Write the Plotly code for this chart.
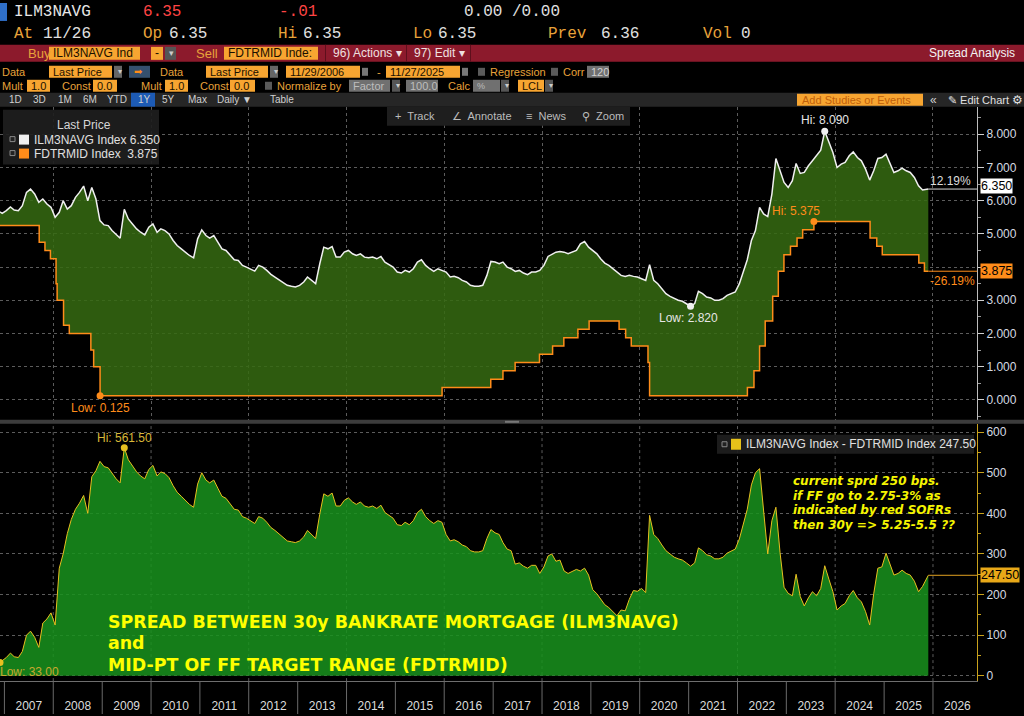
import pandas as pd
import plotly.graph_objects as go

W, H = 1024, 716
SANS = "Liberation Sans, Arial, sans-serif"
MONO = "Liberation Mono, monospace"
HEAVY = "DejaVu Sans, Verdana, sans-serif"

# ILM3NAVG (30y Bankrate mortgage), first print, one value per month, last print
ilm_values = [
    5.66,
    5.62,
    5.70, 5.81, 5.72, 5.70, 5.85, 6.25, 6.35, 6.20, 5.95, 6.05, 5.90, 5.80,  # 2007
    5.50, 5.65, 6.00, 5.75, 5.85, 6.10, 6.25, 6.44, 6.00, 6.40, 6.05, 5.40,  # 2008
    5.27, 5.25, 5.10, 4.97, 4.87, 5.74, 5.45, 5.30, 5.15, 5.05, 4.97, 5.20,  # 2009
    5.30, 5.05, 5.15, 5.10, 5.00, 4.80, 4.65, 4.55, 4.45, 4.35, 4.28, 4.85,  # 2010
    5.12, 4.95, 4.87, 4.95, 4.75, 4.55, 4.50, 4.35, 4.22, 4.20, 4.05, 4.00,  # 2011
    3.95, 3.88, 4.05, 4.00, 3.90, 3.78, 3.70, 3.62, 3.55, 3.45, 3.42, 3.40,  # 2012
    3.45, 3.55, 3.70, 3.60, 3.50, 4.10, 4.60, 4.55, 4.62, 4.30, 4.30, 4.45,  # 2013
    4.50, 4.40, 4.35, 4.40, 4.30, 4.28, 4.30, 4.25, 4.32, 4.15, 4.07, 4.00,  # 2014
    3.85, 3.82, 3.90, 3.85, 3.95, 4.15, 4.22, 4.05, 3.95, 3.87, 3.95, 3.90,  # 2015
    3.85, 3.70, 3.72, 3.68, 3.60, 3.55, 3.45, 3.42, 3.42, 3.45, 3.75, 4.17,  # 2016
    4.15, 4.10, 4.15, 4.00, 3.95, 3.87, 3.90, 3.82, 3.77, 3.85, 3.85, 3.90,  # 2017
    4.05, 4.32, 4.38, 4.45, 4.47, 4.45, 4.40, 4.45, 4.50, 4.70, 4.77, 4.60,  # 2018
    4.50, 4.40, 4.25, 4.12, 4.05, 3.95, 3.85, 3.75, 3.72, 3.75, 3.72, 3.70,  # 2019
    3.65, 3.60, 4.07, 3.60, 3.50, 3.35, 3.20, 3.12, 3.05, 3.00, 2.97, 2.90,  # 2020
    2.82, 2.90, 3.27, 3.20, 3.10, 3.07, 3.00, 3.00, 3.05, 3.15, 3.20, 3.25,  # 2021
    3.50, 3.90, 4.22, 4.80, 5.10, 5.80, 5.60, 5.52, 6.20, 7.27, 6.90, 6.55,  # 2022
    6.40, 6.60, 7.12, 6.82, 6.85, 7.05, 7.20, 7.35, 7.52, 8.09, 7.75, 7.45,  # 2023
    7.00, 7.10, 7.15, 7.35, 7.47, 7.30, 7.20, 6.95, 6.62, 6.90, 7.27, 7.30,  # 2024
    7.40, 7.10, 6.85, 6.90, 6.98, 6.90, 6.85, 6.70, 6.45, 6.32,  # 2025
    6.35,
]

# ILM3NAVG - FDTRMID spread in bps, same dates
spread_values = [
    33,
    37,
    45, 56, 47, 45, 60, 100, 110, 95, 70, 130, 140, 155,  # 2007
    125, 265, 300, 350, 385, 410, 425, 444, 400, 490, 505, 528,  # 2008
    515, 512, 498, 485, 475, 561.5, 532, 518, 502, 492, 485, 508,  # 2009
    518, 492, 502, 498, 488, 468, 452, 442, 432, 422, 415, 472,  # 2010
    500, 482, 475, 482, 462, 442, 437, 422, 410, 408, 392, 388,  # 2011
    382, 375, 392, 388, 378, 365, 358, 350, 342, 332, 330, 328,  # 2012
    332, 342, 358, 348, 338, 398, 448, 442, 450, 418, 418, 432,  # 2013
    438, 428, 422, 428, 418, 415, 418, 412, 420, 402, 395, 388,  # 2014
    372, 370, 378, 372, 382, 402, 410, 392, 382, 375, 382, 378,  # 2015
    348, 332, 335, 330, 322, 318, 308, 305, 305, 308, 338, 360,  # 2016
    352, 348, 328, 312, 308, 275, 278, 270, 265, 272, 272, 252,  # 2017
    268, 295, 300, 282, 285, 258, 252, 258, 262, 258, 265, 248,  # 2018
    212, 202, 188, 175, 168, 158, 148, 162, 160, 188, 210, 208,  # 2019
    215, 205, 395, 348, 338, 322, 308, 300, 292, 288, 285, 278,  # 2020
    270, 278, 315, 308, 298, 295, 288, 288, 292, 302, 308, 312,  # 2021
    337, 377, 410, 470, 500, 510, 400, 300, 382, 415, 303, 218,  # 2022
    203, 197, 250, 195, 172, 192, 207, 197, 215, 271, 238, 207,  # 2023
    162, 172, 178, 197, 210, 192, 182, 158, 125, 202, 265, 268,  # 2024
    302, 272, 248, 252, 260, 252, 248, 233, 207, 220,  # 2025
    247.5,
]

first_date = "2006-11-29"
last_date = "2025-11-27"
months = pd.date_range("2006-12-01", "2025-10-01", freq="MS") + pd.Timedelta(days=14)
dates = [first_date] + [d.strftime("%Y-%m-%d") for d in months] + [last_date]

# FDTRMID (mid-point of the fed funds target range), one entry per change
ff_dates = [
    "2006-11-29", "2007-09-18", "2007-10-31", "2007-12-11", "2008-01-22", "2008-01-30",
    "2008-03-18", "2008-04-30", "2008-10-08", "2008-10-29", "2008-12-16", "2015-12-16",
    "2016-12-14", "2017-03-15", "2017-06-14", "2017-12-13", "2018-03-21", "2018-06-13",
    "2018-09-26", "2018-12-19", "2019-07-31", "2019-09-18", "2019-10-30", "2020-03-03",
    "2020-03-15", "2022-03-16", "2022-05-04", "2022-06-15", "2022-07-27", "2022-09-21",
    "2022-11-02", "2022-12-14", "2023-02-01", "2023-03-22", "2023-05-03", "2023-07-26",
    "2024-09-18", "2024-11-07", "2024-12-18", "2025-09-17", "2025-10-29", "2025-11-27",
]
ff_values = [
    5.25, 4.75, 4.50, 4.25, 3.50, 3.00,
    2.25, 2.00, 1.50, 1.00, 0.125, 0.375,
    0.625, 0.875, 1.125, 1.375, 1.625, 1.875,
    2.125, 2.375, 2.125, 1.875, 1.625, 1.125,
    0.125, 0.375, 0.875, 1.625, 2.375, 3.125,
    3.875, 4.375, 4.625, 4.875, 5.125, 5.375,
    4.875, 4.625, 4.375, 4.125, 3.875, 3.875,
]

years = list(range(2007, 2027))
rate_ticks = list(range(0, 9))
x_start, x_end = "2006-11-29", "2026-11-26"

ORANGE = "#ff8c1a"
GOLD = "#e8c020"
GOLD_AXIS = "#c9a21c"
WHITE = "#f0f0f0"
TOP_GREEN = "rgba(53,106,18,0.86)"
BOT_GREEN = "rgba(24,146,29,0.86)"
GRID = "#5c5c5c"
LBL = "#e8a33a"
PLOT_R = 977 / W

shapes = []
annots = []


def px(x):
    return x / W


def py(y):
    return 1 - y / H


def rect(x0, y0, x1, y1, fill, line=None):
    shapes.append(dict(type="rect", xref="paper", yref="paper", layer="above",
                       x0=px(x0), x1=px(x1), y0=py(y1), y1=py(y0), fillcolor=fill,
                       line=dict(width=1 if line else 0, color=line or fill)))


def label(x, y, text, color, size=12, anchor="left", family=SANS):
    annots.append(dict(xref="paper", yref="paper", x=px(x), y=py(y), text=text,
                       showarrow=False, xanchor=anchor, yanchor="middle",
                       font=dict(color=color, size=size, family=family)))


def box_text(x0, x1, y0, y1, text, fill, color, size=11):
    rect(x0, y0, x1, y1, fill)
    label(x0 + 2, (y0 + y1) / 2, text, color, size)


fig = go.Figure()

# top panel: fed funds mid step line, mortgage line filled down to it
fig.add_trace(go.Scatter(x=ff_dates, y=ff_values, mode="lines", xaxis="x", yaxis="y",
                         line=dict(color=ORANGE, width=1.5, shape="hv"), hoverinfo="skip"))
fig.add_trace(go.Scatter(x=dates, y=ilm_values, mode="lines", xaxis="x", yaxis="y",
                         line=dict(color=WHITE, width=1.5), fill="tonexty", fillcolor=TOP_GREEN))

# bottom panel: spread
fig.add_trace(go.Scatter(x=dates, y=spread_values, mode="lines", xaxis="x2", yaxis="y2",
                         line=dict(color=GOLD, width=1), fill="tozeroy", fillcolor=BOT_GREEN))


def hi_lo(ys):
    hi = max(range(len(ys)), key=lambda i: ys[i])
    lo = min(range(len(ys)), key=lambda i: ys[i])
    return hi, lo


# hi / low markers and labels
i_hi, i_lo = hi_lo(ilm_values)
f_hi, f_lo = hi_lo(ff_values)
s_hi, s_lo = hi_lo(spread_values)

fig.add_trace(go.Scatter(x=[dates[i_hi], dates[i_lo]], y=[ilm_values[i_hi], ilm_values[i_lo]],
                         mode="markers", marker=dict(color=WHITE, size=7), xaxis="x", yaxis="y"))
fig.add_trace(go.Scatter(x=[ff_dates[f_hi], ff_dates[f_lo]], y=[ff_values[f_hi], ff_values[f_lo]],
                         mode="markers", marker=dict(color=ORANGE, size=7), xaxis="x", yaxis="y"))
fig.add_trace(go.Scatter(x=[dates[s_hi], dates[s_lo]], y=[spread_values[s_hi], spread_values[s_lo]],
                         mode="markers", marker=dict(color=GOLD, size=7), xaxis="x2", yaxis="y2"))


def point_label(x, y, text, color, xr, yr, xanchor, xshift, yshift):
    annots.append(dict(xref=xr, yref=yr, x=x, y=y, text=text, showarrow=False,
                       xanchor=xanchor, yanchor="middle", xshift=xshift, yshift=yshift,
                       font=dict(color=color, size=12, family=SANS)))


point_label(dates[i_hi], ilm_values[i_hi], f"Hi: {ilm_values[i_hi]:.3f}", "#e6e6e6", "x", "y", "center", 0, 11)
point_label(dates[i_lo], ilm_values[i_lo], f"Low: {ilm_values[i_lo]:.3f}", "#e6e6e6", "x", "y", "center", -2, -12)
point_label(ff_dates[f_hi], ff_values[f_hi], f"Hi: {ff_values[f_hi]:.3f}", ORANGE, "x", "y", "right", 8, 10)
point_label(ff_dates[f_lo], ff_values[f_lo], f"Low: {ff_values[f_lo]:.3f}", ORANGE, "x", "y", "center", 0, -12)
point_label(dates[s_hi], spread_values[s_hi], f"Hi: {spread_values[s_hi]:.2f}", "#d8b838", "x2", "y2", "center", 0, 10)
point_label(dates[s_lo], spread_values[s_lo], f"Low: {spread_values[s_lo]:.2f}", "#c8a830", "x2", "y2", "left", -2, -10)

# last-value guide lines out to the axis, % change and value callouts
shapes.append(dict(type="line", xref="x", yref="y", x0=dates[-1], x1=x_end,
                   y0=ilm_values[-1], y1=ilm_values[-1], line=dict(color="#d8d8d8", width=1)))
shapes.append(dict(type="line", xref="x", yref="y", x0=ff_dates[-1], x1=x_end,
                   y0=ff_values[-1], y1=ff_values[-1], line=dict(color=ORANGE, width=1)))
shapes.append(dict(type="line", xref="x2", yref="y2", x0=dates[-1], x1=x_end,
                   y0=spread_values[-1], y1=spread_values[-1], line=dict(color="#e0a020", width=1)))

ilm_chg = (ilm_values[-1] / ilm_values[0] - 1) * 100
ff_chg = (ff_values[-1] / ff_values[0] - 1) * 100
annots.append(dict(xref="paper", yref="y", x=px(973), y=ilm_values[-1], yshift=8, text=f"{ilm_chg:.2f}%",
                   showarrow=False, xanchor="right", font=dict(color="#dcdcdc", size=12, family=SANS)))
annots.append(dict(xref="paper", yref="y", x=px(977), y=ff_values[-1], yshift=-10, text=f"{ff_chg:.2f}%",
                   showarrow=False, xanchor="right", font=dict(color=ORANGE, size=12, family=SANS)))

for yv, yr, txt, bg, shift in [(ilm_values[-1], "y", f"{ilm_values[-1]:.3f}", "#ffffff", 3),
                               (ff_values[-1], "y", f"{ff_values[-1]:.3f}", "#ff8c1a", 0),
                               (spread_values[-1], "y2", f"{spread_values[-1]:.2f}", "#e8a818", 0)]:
    annots.append(dict(xref="paper", yref=yr, x=px(980), y=yv, yshift=shift, text=txt, showarrow=False,
                       xanchor="left", yanchor="middle", bgcolor=bg, borderpad=0,
                       font=dict(color="#000000", size=12.5, family=SANS)))

# rate-axis labels; the one hidden behind the fed funds callout is left blank
rate_text = [f"{v:.3f}" if abs(v - ff_values[-1]) > 0.2 else "" for v in rate_ticks]

# vertical dotted grid in the lower panel, separators in the date strip
for yr in years:
    if yr % 2 == 0:
        shapes.append(dict(type="line", xref="x2", yref="y2 domain", x0=f"{yr}-01-01", x1=f"{yr}-01-01",
                           y0=0, y1=1, layer="below", line=dict(color=GRID, width=1, dash="dot")))
    shapes.append(dict(type="line", xref="x2", yref="paper", x0=f"{yr}-01-01", x1=f"{yr}-01-01",
                       y0=0, y1=py(683), line=dict(color="#6a6a6a", width=1)))

# ---- terminal chrome ----
# quote header
rect(0, 3, 7, 21, "#2f6fc8")
label(12, 12, "ILM3NAVG", "#e6e6e6", 16, family=MONO)
label(141, 12, "6.35", "#ff4444", 16, family=MONO)
label(277, 12, "-.01", "#ff4444", 16, family=MONO)
label(462, 12, "0.00 /0.00", "#e0e0e0", 16, family=MONO)
for x_lab, lab, x_val, val in [(12, "At", 41, "11/26"), (141, "Op", 167, "6.35"), (276, "Hi", 301, "6.35"),
                               (411, "Lo", 436, "6.35"), (546, "Prev", 599, "6.36"), (701, "Vol", 739, "0")]:
    label(x_lab, 34, lab, LBL, 16, family=MONO)
    label(x_val, 34, val, "#e0e0e0", 16, family=MONO)

# red command bar
rect(0, 45, W, 62, "#8c1a2c")
label(26, 53.5, "Buy", LBL, 13)
box_text(49, 140, 47, 60, "ILM3NAVG Ind", "#f7a531", "#1a1000", 12)
box_text(151, 163, 47, 60, "-", "#f7a531", "#1a1000", 12)
box_text(165, 176, 47, 60, "▾", "#555555", "#cccccc", 9)
label(194, 53.5, "Sell", LBL, 13)
box_text(224, 318, 47, 60, "FDTRMID Inde:", "#f7a531", "#1a1000", 12)
rect(325, 45, 326, 62, "#5e0f1c")
label(331, 53.5, "96) Actions ▾", "#f0e0e0", 12)
rect(406, 45, 407, 62, "#5e0f1c")
label(412, 53.5, "97) Edit ▾", "#f0e0e0", 12)
rect(470, 45, 471, 62, "#5e0f1c")
label(1017, 53.5, "Spread Analysis", "#f4f4f4", 12, anchor="right")

# settings rows
label(0, 72, "Data", LBL, 11)
box_text(49, 112, 66, 78, "Last Price", "#f7a531", "#1a1000", 11)
box_text(114, 122, 66, 78, "▾", "#666666", "#cccccc", 8)
rect(129, 66, 150, 78, "#35506e")
label(132, 72, "➡", ORANGE, 10)
label(158, 72, "Data", LBL, 11)
box_text(206, 268, 66, 78, "Last Price", "#f7a531", "#1a1000", 11)
box_text(270, 278, 66, 78, "▾", "#666666", "#cccccc", 8)
box_text(286, 360, 66, 78, "11/29/2006", "#f7a531", "#1a1000", 11)
rect(362, 68, 368, 76, "#777777")
label(375, 72, "-", LBL, 11)
box_text(386, 460, 66, 78, "11/27/2025", "#f7a531", "#1a1000", 11)
rect(462, 68, 468, 76, "#777777")
rect(478, 68, 485, 76, "#5a5a5a")
label(488, 72, "Regression", LBL, 11)
rect(551, 68, 558, 76, "#5a5a5a")
label(561, 72, "Corr", LBL, 11)
box_text(587, 609, 66, 78, "120", "#707070", "#cfcfcf", 11)

label(0, 86, "Mult", LBL, 11)
box_text(27, 50, 80, 92, "1.0", "#f7a531", "#1a1000", 11)
label(60, 86, "Const", LBL, 11)
box_text(93, 117, 80, 92, "0.0", "#f7a531", "#1a1000", 11)
label(139, 86, "Mult", LBL, 11)
box_text(165, 188, 80, 92, "1.0", "#f7a531", "#1a1000", 11)
label(198, 86, "Const", LBL, 11)
box_text(230, 255, 80, 92, "0.0", "#f7a531", "#1a1000", 11)
rect(265, 82, 272, 90, "#5a5a5a")
label(275, 86, "Normalize by", LBL, 11)
box_text(349, 390, 80, 92, "Factor", "#707070", "#bdbdbd", 11)
box_text(392, 400, 80, 92, "▾", "#555555", "#cccccc", 8)
box_text(406, 438, 80, 92, "100.0", "#707070", "#bdbdbd", 11)
label(446, 86, "Calc", LBL, 11)
box_text(473, 500, 80, 92, "%", "#707070", "#bdbdbd", 9)
box_text(501, 509, 80, 92, "▾", "#555555", "#cccccc", 8)
box_text(518, 544, 80, 92, "LCL", "#f7a531", "#1a1000", 11)
box_text(545, 553, 80, 92, "▾", "#555555", "#cccccc", 8)

# chart toolbar
rect(0, 93, W, 107, "#262626")
rect(131, 93, 155, 107, "#1d5bb5")
for xt, t in [(7, "1D"), (31, "3D"), (56, "1M"), (81, "6M"), (105, "YTD"), (136, "1Y"),
              (160, "5Y"), (186, "Max"), (215, "Daily ▼"), (268, "Table")]:
    label(xt, 100, t, "#d0d0d0", 10)
rect(797, 94, 923, 106, "#f7a531")
label(800, 100, "Add Studies or Events", "#c0600a", 11)
label(928, 100, "«", "#d0d0d0", 12)
label(946, 100, "✎ Edit Chart", "#e0e0e0", 11)
label(1010, 100, "⚙", "#e0e0e0", 12)

# track / annotate / news / zoom strip
rect(387, 107, 630, 126, "#1e1e1e")
for xt, t in [(393, "+  Track"), (450, "∠  Annotate"), (524, "≡  News"), (580, "⚲  Zoom")]:
    label(xt, 116, t, "#bcbcbc", 11)

# panel divider
rect(0, 421, W, 425, "#3c3c3c")
rect(505, 422, 519, 424, "#777777")

# top legend
rect(3, 110, 159, 165, "rgba(30,30,30,0.92)")
label(84, 125, "Last Price", "#d6d6d6", 12, anchor="center")
for yy, col, txt in [(140, WHITE, "ILM3NAVG Index 6.350"), (154, ORANGE, "FDTRMID Index  3.875")]:
    rect(10, yy - 3, 15, yy + 2, "#222222", "#888888")
    rect(19, yy - 5, 29, yy + 5, col)
    label(32, yy, txt, "#e0e0e0", 12)

# lower legend
rect(717, 436, 974, 455, "rgba(30,30,30,0.92)")
rect(722, 443, 727, 448, "#222222", "#888888")
rect(731, 440, 741, 451, "#e6c21a")
label(744, 445.5, f"ILM3NAVG Index - FDTRMID Index {spread_values[-1]:.2f}", "#e0e0e0", 12)

# user notes on the spread panel
for yy, t in [(624, "SPREAD BETWEEN 30y BANKRATE MORTGAGE (ILM3NAVG)"), (645, "and"),
              (667, "MID-PT OF FF TARGET RANGE (FDTRMID)")]:
    label(106, yy, f"<b>{t}</b>", "#ffff00", 17.4, family=HEAVY)
for yy, t in [(482, "current sprd 250 bps."), (497, "if FF go to 2.75-3% as"),
              (511, "indicated by red SOFRs"), (526, "then 30y =&gt; 5.25-5.5 ??")]:
    label(791, yy, f"<b><i>{t}</i></b>", "#f5f500", 12, family=HEAVY)

fig.update_layout(
    width=W, height=H, autosize=False,
    margin=dict(l=0, r=0, t=0, b=0),
    paper_bgcolor="black", plot_bgcolor="black",
    showlegend=False,
    hovermode=False,
    xaxis=dict(domain=[0, PLOT_R], range=[x_start, x_end], type="date", anchor="y",
               showticklabels=False, ticks="", showgrid=True, gridcolor=GRID, griddash="dot",
               dtick="M24", tick0="2008-01-01", zeroline=False, showline=False),
    yaxis=dict(domain=[py(421), py(107)], range=[-0.60, 8.83], side="right", anchor="x",
               tickmode="array", tickvals=rate_ticks, ticktext=rate_text,
               showgrid=True, gridcolor=GRID, griddash="dot",
               ticks="outside", ticklen=6, tickcolor="#d0d0d0", showline=True, linecolor="#bdbdbd",
               minor=dict(tickmode="linear", tick0=0, dtick=0.5, ticks="outside", ticklen=3, tickcolor="#9a9a9a"),
               tickfont=dict(family=SANS, size=12, color="#d5dbe2"), zeroline=False),
    xaxis2=dict(domain=[0, PLOT_R], range=[x_start, x_end], type="date", anchor="y2",
                dtick="M12", tick0="2007-01-01", tickformat="%Y", ticklabelmode="period",
                ticks="outside", ticklen=14, tickcolor="rgba(0,0,0,0)",
                tickfont=dict(family=SANS, size=12, color="#dcdcdc"),
                showgrid=False, zeroline=False, showline=True, linecolor="#6e6e6e"),
    yaxis2=dict(domain=[py(683), py(425)], range=[-13, 620.4], side="right", anchor="x2",
                dtick=100, tick0=0, showgrid=True, gridcolor=GRID, griddash="dot",
                ticks="outside", ticklen=6, tickcolor=GOLD_AXIS, showline=True, linecolor=GOLD_AXIS,
                minor=dict(dtick=50, ticks="outside", ticklen=3, tickcolor=GOLD_AXIS),
                tickfont=dict(family=SANS, size=12, color="#d5dbe2"), zeroline=False),
    shapes=shapes,
    annotations=annots,
)

fig.write_html("out.html", config={"displayModeBar": False},
               post_script="document.body.style.margin='0';document.body.style.overflow='hidden';")
